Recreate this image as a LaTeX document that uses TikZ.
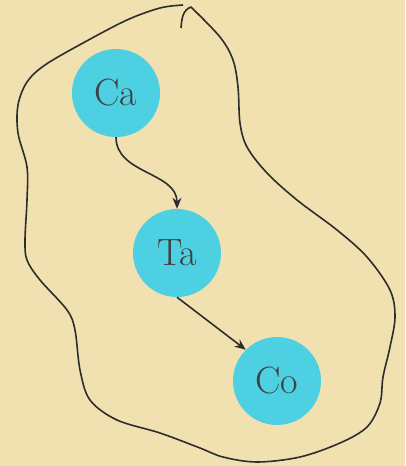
\documentclass[tikz,border=0pt]{standalone}
\usepackage{fontspec}
\usepackage{xcolor}
\usetikzlibrary{arrows.meta}

\definecolor{paper}{HTML}{F1E1B1}
\definecolor{bubble}{HTML}{4DD0E1}
\definecolor{ink}{HTML}{2D2D2D}
\definecolor{label}{HTML}{404040}

\begin{document}
\begin{tikzpicture}[
    x=1pt,
    y=1pt,
    every node/.style={font=\fontsize{38}{44}\selectfont},
    elem/.style={circle, fill=bubble, text=label, minimum size=88pt, inner sep=0pt},
    arrow/.style={-{Stealth[length=11pt,width=9pt]}, line width=1.6pt, draw=ink},
    blob/.style={line width=1.6pt, draw=ink, line join=round}
]
\fill[paper] (0,0) rectangle (405,-466);
\useasboundingbox (0,0) rectangle (405,-466);

\node[elem] (ca) at (116,-93) {Ca};
\node[elem] (ta) at (177,-253) {Ta};
\node[elem] (co) at (277,-381) {Co};

\draw[arrow] (ca.south) to[out=-90,in=90] (ta.north);
\draw[arrow] (ta.south) -- (co.north west);

% hand drawn outline
\draw[blob] plot[smooth, tension=0.55] coordinates {
  (183,-5) (160,-8) (127,-20) (83,-43) (45,-65) (27,-82) (18,-105)
  (18,-133) (27,-167) (27,-200) (25,-240) (27,-260) (40,-280) (67,-310)
  (75,-330) (80,-370) (90,-400) (117,-420) (160,-433) (200,-448)
  (223,-457) (257,-462) (300,-457) (340,-443) (367,-427) (380,-403)
  (383,-377) (390,-347) (395,-317) (390,-290) (367,-257) (337,-230)
  (297,-200) (267,-173) (247,-147) (240,-123) (238,-87) (233,-60)
  (220,-37) (191,-7)}
  to[out=200,in=85] (181,-28);
\end{tikzpicture}
\end{document}
